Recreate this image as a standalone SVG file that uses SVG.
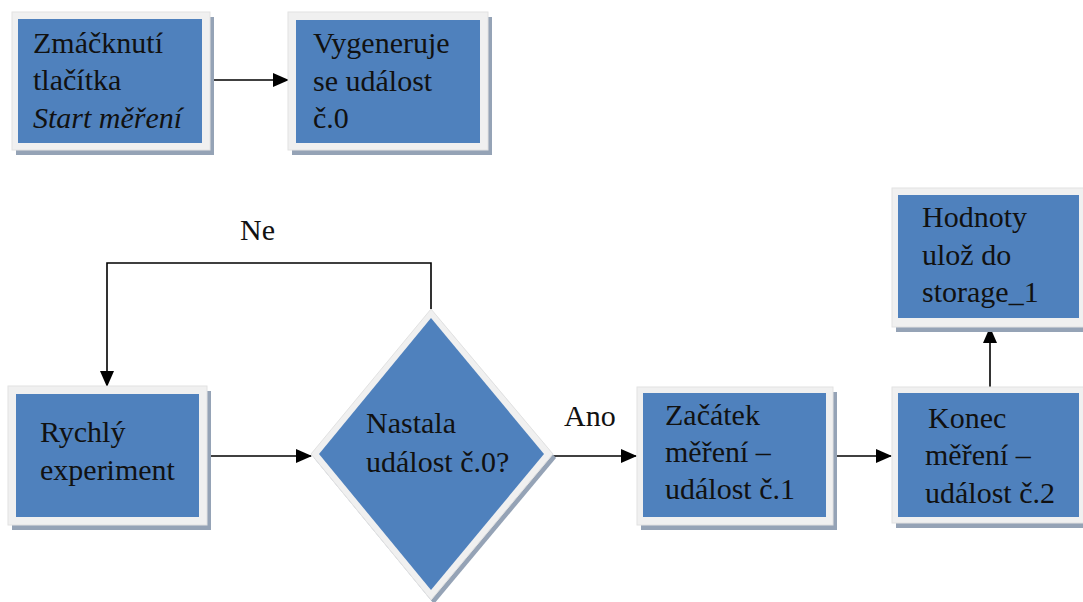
<svg xmlns="http://www.w3.org/2000/svg" width="1083" height="602" viewBox="0 0 1083 602">
<style>
.shadow{fill:#95a3b6}
.frame{fill:#f0f0f0;stroke:#e2e2e2;stroke-width:1}
.fill{fill:#4f81bd}
.t{font-family:'Liberation Serif','DejaVu Serif',serif;font-size:30px;fill:#111}
.it{font-style:italic}
.conn{fill:none;stroke:#000;stroke-width:1.6}
</style>
<defs>
<marker id="arr" markerUnits="userSpaceOnUse" markerWidth="16" markerHeight="14" refX="15" refY="7" orient="auto">
<path d="M0,0 L16,7 L0,14 Z" fill="#000"/>
</marker>
</defs>
<rect width="1083" height="602" fill="#fff"/>

<g id="connectors">
<line class="conn" x1="209" y1="80" x2="288" y2="80" marker-end="url(#arr)"/>
<path class="conn" d="M431,309 V263 H107 V386" marker-end="url(#arr)"/>
<line class="conn" x1="207" y1="456" x2="311" y2="456" marker-end="url(#arr)"/>
<line class="conn" x1="553" y1="456" x2="636" y2="456" marker-end="url(#arr)"/>
<line class="conn" x1="833" y1="456" x2="891" y2="456" marker-end="url(#arr)"/>
<line class="conn" x1="990" y1="387" x2="990" y2="328" marker-end="url(#arr)"/>
</g>

<g id="labels">
<text class="t" x="240" y="240">Ne</text>
<text class="t" x="564" y="426">Ano</text>
</g>

<g id="node-zmacknuti">
<rect class="shadow" x="16" y="17" width="198" height="138"/>
<rect class="frame" x="12" y="12" width="198" height="138"/>
<rect class="fill" x="18" y="19" width="184" height="124"/>
<text class="t" x="33" y="53">Zmáčknutí</text>
<text class="t" x="33" y="90">tlačítka</text>
<text class="t it" x="33" y="128">Start měření</text>
</g>

<g id="node-vygeneruje">
<rect class="shadow" x="292" y="17" width="200" height="138"/>
<rect class="frame" x="288" y="12" width="200" height="138"/>
<rect class="fill" x="296" y="20" width="184" height="123"/>
<text class="t" x="313" y="53">Vygeneruje</text>
<text class="t" x="313" y="91">se událost</text>
<text class="t" x="313" y="128">č.0</text>
</g>

<g id="node-rychly">
<rect class="shadow" x="12" y="391" width="199" height="139"/>
<rect class="frame" x="8" y="386" width="199" height="139"/>
<rect class="fill" x="16" y="394" width="183" height="123"/>
<text class="t" x="40" y="442">Rychlý</text>
<text class="t" x="40" y="480">experiment</text>
</g>

<g id="node-nastala">
<polygon class="shadow" points="434,313 556,458 434,604 314,458"/>
<polygon class="frame" points="431,309 553,454 431,600 311,454"/>
<polygon class="fill" points="431,318 544,454 431,590 319,454"/>
<text class="t" x="366" y="433">Nastala</text>
<text class="t" x="366" y="472">událost č.0?</text>
</g>

<g id="node-zacatek">
<rect class="shadow" x="641" y="392" width="196" height="138"/>
<rect class="frame" x="637" y="387" width="196" height="138"/>
<rect class="fill" x="643" y="393" width="183" height="124"/>
<text class="t" x="665" y="425">Začátek</text>
<text class="t" x="665" y="462">měření –</text>
<text class="t" x="665" y="499">událost č.1</text>
</g>

<g id="node-konec">
<rect class="shadow" x="896" y="392" width="192" height="136"/>
<rect class="frame" x="892" y="387" width="192" height="136"/>
<rect class="fill" x="898" y="393" width="181" height="124"/>
<text class="t" x="928" y="428">Konec</text>
<text class="t" x="925" y="465">měření –</text>
<text class="t" x="925" y="503">událost č.2</text>
</g>

<g id="node-hodnoty">
<rect class="shadow" x="896" y="193" width="192" height="139"/>
<rect class="frame" x="892" y="188" width="192" height="139"/>
<rect class="fill" x="898" y="195" width="181" height="123"/>
<text class="t" x="922" y="227">Hodnoty</text>
<text class="t" x="922" y="265">ulož do</text>
<text class="t" x="922" y="302">storage_1</text>
</g>
</svg>
